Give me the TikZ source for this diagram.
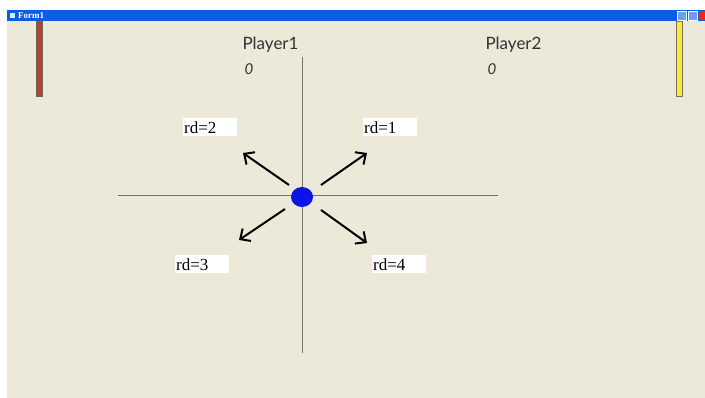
\documentclass[tikz,border=0pt]{standalone}
\usepackage{fontspec}
\setmainfont{Liberation Serif}
\newfontfamily\handfont{Lato}
\usepackage{tikz}
\usetikzlibrary{arrows.meta,positioning}
\definecolor{formbg}{HTML}{ECE9D8}
\definecolor{titleblue}{HTML}{0A5CE6}
\definecolor{paddlebrown}{HTML}{B5461C}
\definecolor{paddleyellow}{HTML}{F5F01E}
\definecolor{ballblue}{HTML}{0A14E6}

\begin{document}
\begin{tikzpicture}[x=1pt, y=-1pt,
  rdlabel/.style={fill=white, anchor=north west, inner xsep=1pt, inner ysep=0pt,
    text width=52pt, minimum height=18pt, align=left, font=\fontsize{17}{17}\selectfont},
  dirarrow/.style={line width=2pt, -{Straight Barb[length=8pt, width=15pt]}},
  scoretext/.style={anchor=west, font=\handfont\fontsize{17}{17}\selectfont, text=black!80}]
\useasboundingbox (0,0) rectangle (705,398);

% Window and title bar
\fill[formbg] (7,21) rectangle (705,398);
\fill[titleblue] (7,10) rectangle (705,21);
\fill[white!85!titleblue] (10,13) rectangle (15,18);
\node[anchor=west, text=white, inner sep=0pt, font=\fontsize{9}{9}\selectfont\bfseries] (title) at (18,15.5) {Form1};
\filldraw[fill=titleblue!60!white, draw=white] (677,11) rectangle (686,20);
\filldraw[fill=titleblue!60!white, draw=white] (688,11) rectangle (697,20);
\fill[red!70!orange] (699,11) rectangle (705,20);

% Paddles
\filldraw[fill=paddlebrown, draw=black!60] (36,21) rectangle (42,96);
\filldraw[fill=paddleyellow, draw=black!55] (676,21) rectangle (682,96);

% Scores
\node[scoretext] (p1) at (239,45) {Player1};
\node[scoretext, font=\handfont\itshape\fontsize{15}{15}\selectfont] (s1) at (241,69) {0};
\node[scoretext] (p2) at (482,45) {Player2};
\node[scoretext, font=\handfont\itshape\fontsize{15}{15}\selectfont] (s2) at (484,69) {0};

% Axes
\draw[black!55, line width=1pt] (302,57) coordinate (vtop) -- (302,353) coordinate (vbot);
\draw[black!55, line width=1pt] (118,196) coordinate (hleft) -- (498,196) coordinate (hright);

% Ball
\fill[ballblue] (302,197) coordinate (ball) ellipse [x radius=11, y radius=10];

% Directions
\coordinate (ne0) at (321,185); \coordinate (ne1) at (367,153);
\coordinate (nw0) at (289,185); \coordinate (nw1) at (243,153);
\coordinate (sw0) at (285,209); \coordinate (sw1) at (239,240);
\coordinate (se0) at (321,210); \coordinate (se1) at (367,243);
\draw[dirarrow] (ne0) -- (ne1);
\draw[dirarrow] (nw0) -- (nw1);
\draw[dirarrow] (sw0) -- (sw1);
\draw[dirarrow] (se0) -- (se1);

% Labels
\node[rdlabel] (rd2) at (183,118) {rd=2};
\node[rdlabel] (rd1) at (363,118) {rd=1};
\node[rdlabel] (rd3) at (175,255) {rd=3};
\node[rdlabel] (rd4) at (372,255) {rd=4};

\end{tikzpicture}
\end{document}
